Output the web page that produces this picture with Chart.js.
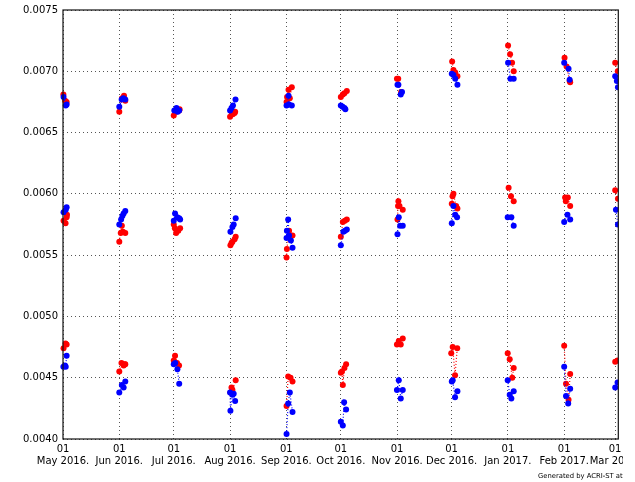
<html>
<head>
  <script src="https://cdn.jsdelivr.net/npm/chart.js@4.4.1/dist/chart.umd.min.js"></script>
  <style>
    body { margin: 0; background: #fff; }
    #wrap { width: 623px; height: 482px; }
  </style>
</head>
<body>
  <div id="wrap"><canvas id="chart"></canvas></div>

  <script>
    // x = days since 01 May 2016, y = value
    var monthDays = [0, 31, 61, 92, 123, 153, 184, 214, 245, 276, 304];
    var monthLabels = ['May 2016.', 'Jun 2016.', 'Jul 2016.', 'Aug 2016.', 'Sep 2016.', 'Oct 2016.',
                       'Nov 2016.', 'Dec 2016.', 'Jan 2017.', 'Feb 2017.', 'Mar 2017.'];
    var yTicks = [0.0040, 0.0045, 0.0050, 0.0055, 0.0060, 0.0065, 0.0070, 0.0075];

    var topRed = [
      [0.2,0.00681],[1.2,0.00676],[2.0,0.00675],
      [31.0,0.00667],[32.5,0.00678],[33.6,0.00680],[34.3,0.00676],
      [61.0,0.00664],[62.5,0.00667],[64.0,0.00668],[64.2,0.00669],
      [92.0,0.00663],[93.0,0.00666],[93.5,0.00665],[94.5,0.00666],[94.8,0.00667],
      [123.1,0.00675],[123.4,0.00679],[124.2,0.00685],[124.9,0.00678],[126.0,0.00687],
      [153.0,0.00679],[154.1,0.00681],[155.0,0.00682],[156.3,0.00684],
      [183.9,0.00694],[184.6,0.00694],[186.2,0.00683],
      [214.3,0.00708],[215.0,0.00701],[216.0,0.00699],[217.2,0.00696],
      [245.1,0.00721],[246.2,0.00714],[247.3,0.00707],[248.2,0.00700],
      [276.2,0.00711],[277.3,0.00704],[279.0,0.00692],[279.3,0.00691],
      [304.1,0.00707],[305.5,0.00700]
    ];
    var topBlue = [
      [0.3,0.00679],[1.5,0.00672],[2.0,0.00673],
      [31.0,0.00671],[32.3,0.00677],[33.2,0.00678],[34.3,0.00677],
      [61.3,0.00668],[62.5,0.00670],[63.2,0.00667],[64.0,0.00668],
      [92.0,0.00668],[92.8,0.00670],[93.6,0.00672],[95.0,0.00677],
      [123.1,0.00672],[124.2,0.00680],[124.5,0.00673],[126.0,0.00672],
      [153.0,0.00672],[154.0,0.00671],[155.0,0.00670],[155.5,0.00669],
      [184.2,0.00689],[184.7,0.00689],[186.0,0.00681],[186.7,0.00683],
      [214.1,0.00698],[215.0,0.00697],[216.0,0.00694],[217.2,0.00689],
      [245.1,0.00707],[246.4,0.00694],[248.2,0.00694],
      [276.0,0.00707],[278.4,0.00702],[279.0,0.00693],
      [304.1,0.00696],[305.0,0.00692],[305.6,0.00687]
    ];
    var midRed = [
      [0.3,0.00578],[1.4,0.00576],[2.0,0.00581],[2.2,0.00583],
      [31.0,0.00561],[31.8,0.00568],[32.4,0.00574],[33.0,0.00569],[34.3,0.00568],
      [61.0,0.00575],[61.6,0.00572],[62.3,0.00568],[63.5,0.00570],[64.5,0.00572],
      [92.2,0.00558],[92.8,0.00560],[93.3,0.00561],[94.5,0.00563],[95.1,0.00565],
      [123.1,0.00548],[123.3,0.00555],[124.5,0.00570],[125.3,0.00566],[126.4,0.00566],
      [153.0,0.00565],[154.1,0.00577],[155.2,0.00578],[156.3,0.00579],
      [184.2,0.00579],[184.5,0.00590],[184.7,0.00594],[185.3,0.00590],[187.1,0.00587],
      [214.1,0.00592],[214.5,0.00598],[215.0,0.00600],[216.5,0.00590],[217.2,0.00588],
      [245.4,0.00605],[246.7,0.00598],[248.2,0.00594],
      [276.5,0.00597],[276.9,0.00594],[278.0,0.00597],[279.3,0.00590],
      [304.1,0.00603],[305.6,0.00596]
    ];
    var midBlue = [
      [0.3,0.00585],[1.5,0.00587],[2.0,0.00589],
      [31.0,0.00575],[32.0,0.00579],[32.7,0.00582],[33.4,0.00584],[34.3,0.00586],
      [61.0,0.00578],[61.7,0.00584],[62.9,0.00581],[64.0,0.00580],[64.5,0.00579],
      [92.2,0.00569],[93.3,0.00573],[94.0,0.00575],[95.1,0.00580],
      [123.1,0.00564],[123.3,0.00570],[124.0,0.00579],[124.5,0.00566],[125.5,0.00562],[126.4,0.00556],
      [153.0,0.00558],[154.4,0.00569],[155.3,0.00570],[156.3,0.00571],
      [184.2,0.00567],[184.9,0.00581],[185.7,0.00574],[187.1,0.00574],
      [214.1,0.00576],[215.0,0.00590],[216.0,0.00583],[217.0,0.00581],
      [244.9,0.00581],[246.9,0.00581],[248.2,0.00574],
      [276.0,0.00577],[277.8,0.00583],[279.3,0.00579],
      [304.5,0.00587],[305.6,0.00575]
    ];
    var lowRed = [
      [0.3,0.00474],[1.4,0.00478],[2.0,0.00477],
      [31.0,0.00455],[32.2,0.00462],[33.4,0.00460],[34.0,0.00461],[34.3,0.00461],
      [61.0,0.00464],[61.7,0.00468],[62.8,0.00462],[63.9,0.00460],
      [92.2,0.00438],[92.8,0.00442],[93.3,0.00440],[95.1,0.00448],
      [123.1,0.00427],[124.0,0.00451],[125.3,0.00450],[126.4,0.00447],
      [153.0,0.00454],[153.6,0.00455],[154.1,0.00444],[155.0,0.00458],[155.9,0.00461],
      [183.9,0.00477],[184.9,0.00480],[186.0,0.00477],[187.1,0.00482],
      [213.8,0.00470],[214.6,0.00475],[215.9,0.00452],[217.1,0.00474],
      [244.9,0.00470],[246.0,0.00465],[247.4,0.00450],[248.2,0.00458],
      [276.0,0.00476],[277.0,0.00445],[278.4,0.00432],[279.3,0.00453],
      [304.1,0.00463],[305.4,0.00464]
    ];
    var lowBlue = [
      [0.2,0.00459],[1.1,0.00460],[1.5,0.00459],[2.0,0.00468],
      [31.0,0.00438],[32.4,0.00444],[33.4,0.00442],[34.3,0.00447],
      [61.0,0.00461],[61.8,0.00462],[63.0,0.00457],[64.0,0.00445],
      [92.0,0.00438],[92.2,0.00423],[93.3,0.00436],[94.0,0.00437],[94.8,0.00431],
      [123.1,0.00404],[124.0,0.00429],[124.9,0.00438],[126.4,0.00422],
      [153.0,0.00414],[154.1,0.00411],[154.8,0.00430],[155.9,0.00424],
      [183.9,0.00440],[184.9,0.00448],[186.0,0.00433],[187.1,0.00440],
      [214.1,0.00447],[214.6,0.00448],[215.9,0.00434],[217.2,0.00439],
      [244.9,0.00448],[246.0,0.00436],[246.9,0.00433],[248.2,0.00439],
      [276.0,0.00459],[277.0,0.00435],[278.2,0.00429],[279.3,0.00441],
      [304.1,0.00442],[305.4,0.00446]
    ];

    // break the dotted line between monthly groups
    function toPoints(arr) {
      var out = [];
      for (var i = 0; i < arr.length; i++) {
        if (i > 0 && arr[i][0] - arr[i - 1][0] > 10) {
          out.push({ x: (arr[i][0] + arr[i - 1][0]) / 2, y: null });
        }
        out.push({ x: arr[i][0], y: arr[i][1] });
      }
      return out;
    }

    function series(arr, color) {
      return {
        data: toPoints(arr),
        borderColor: color,
        backgroundColor: color,
        borderWidth: 1.2,
        borderDash: [1, 2],
        pointRadius: 3,
        pointBorderWidth: 0,
        pointBackgroundColor: color,
        spanGaps: false,
        clip: { left: 3, right: 0, top: 3, bottom: 3 }
      };
    }

    var frame = {
      id: 'frame',
      afterDraw: function(chart) {
        var a = chart.chartArea, ctx = chart.ctx;
        ctx.save();
        ctx.strokeStyle = '#111';
        ctx.lineWidth = 1.2;
        ctx.strokeRect(a.left, a.top, a.right - a.left, a.bottom - a.top);
        ctx.fillStyle = '#000';
        ctx.font = '6.8px "DejaVu Sans"';
        ctx.textBaseline = 'alphabetic';
        ctx.fillText('Generated by ACRI-ST at', 538, 478);
        ctx.restore();
      }
    };

    new Chart(document.getElementById('chart'), {
      type: 'line',
      data: {
        datasets: [
          series(topBlue, '#0000ff'),
          series(midBlue, '#0000ff'),
          series(lowBlue, '#0000ff'),
          series(topRed, '#ff0000'),
          series(midRed, '#ff0000'),
          series(lowRed, '#ff0000')
        ]
      },
      plugins: [frame],
      options: {
        responsive: true,
        maintainAspectRatio: false,
        animation: false,
        layout: { padding: { top: 10, right: 4.7, bottom: 0, left: 0 } },
        plugins: { legend: { display: false }, tooltip: { enabled: false } },
        scales: {
          x: {
            type: 'linear',
            min: 0,
            max: 305.8,
            afterBuildTicks: function(scale) {
              scale.ticks = monthDays.map(function(d) { return { value: d }; });
            },
            afterFit: function(scale) {
              scale.height = 43;
              scale.paddingLeft = 0;
              scale.paddingRight = 0;
            },
            ticks: {
              autoSkip: false,
              maxRotation: 0,
              padding: 4,
              color: '#000',
              font: { family: 'DejaVu Sans', size: 10, lineHeight: 1.25 },
              callback: function(v) {
                var i = monthDays.indexOf(v);
                return ['01', monthLabels[i]];
              }
            },
            grid: { color: '#555', lineWidth: 1, drawTicks: false },
            border: { display: false, dash: [1, 3] }
          },
          y: {
            min: 0.0040,
            max: 0.0075,
            afterBuildTicks: function(scale) {
              scale.ticks = yTicks.map(function(v) { return { value: v }; });
            },
            afterFit: function(scale) {
              scale.width = 63;
              scale.paddingTop = 0;
              scale.paddingBottom = 0;
            },
            ticks: {
              padding: 5,
              color: '#000',
              font: { family: 'DejaVu Sans', size: 10 },
              callback: function(v) { return v.toFixed(4); }
            },
            grid: { color: '#555', lineWidth: 1, drawTicks: false },
            border: { display: false, dash: [1, 3] }
          }
        }
      }
    });
  </script>
</body>
</html>
